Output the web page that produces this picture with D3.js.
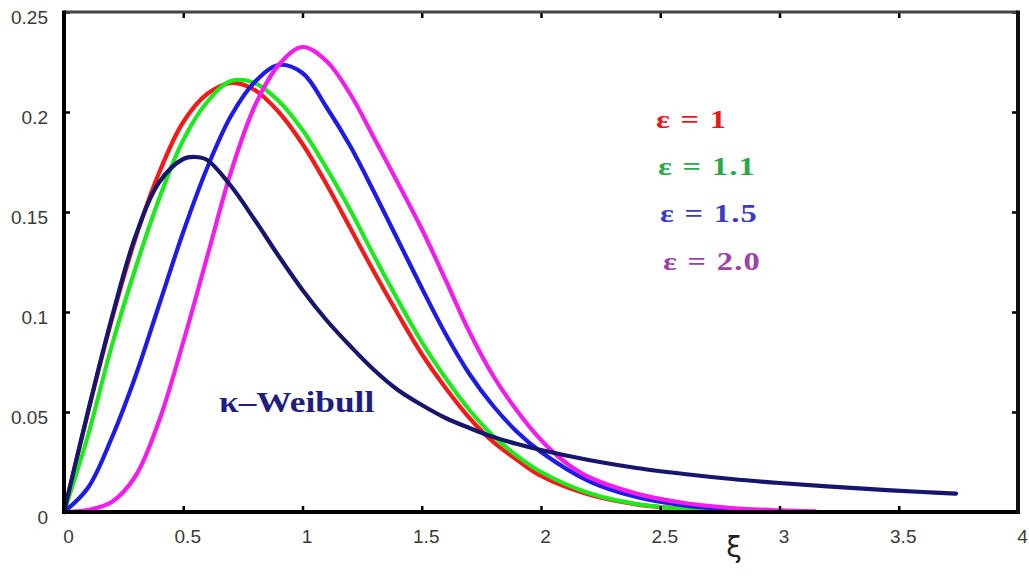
<!DOCTYPE html>
<html><head><meta charset="utf-8">
<script src="https://cdn.jsdelivr.net/npm/d3@7"></script>
<style>body{margin:0;background:#fff}svg{display:block}</style>
</head><body><svg id="c" width="1029" height="578"></svg>
<script>
// ---- data ----
const xTicks = [0, 0.5, 1, 1.5, 2, 2.5, 3, 3.5, 4];
const yTicks = [0, 0.05, 0.1, 0.15, 0.2, 0.25];
const xTickLabels = ["0", "0.5", "1", "1.5", "2", "2.5", "3", "3.5", "4"];
const yTickLabels = ["0", "0.05", "0.1", "0.15", "0.2", "0.25"];

const xsA = [0,0.1,0.2,0.3,0.4,0.5,0.6,0.7,0.8,0.9,1.0,1.1,1.2,1.3,1.4,1.5,1.6,1.7,1.8,1.9,2.0,2.2,2.4,2.6,2.8];
const eps1   = [0,0.0495,0.096,0.137,0.170,0.195,0.209,0.2145,0.211,0.200,0.184,0.164,0.142,0.120,0.099,0.079,0.062,0.047,0.035,0.026,0.018,0.0087,0.0038,0.0015,0.0005];
const eps11  = [0,0.038,0.083,0.122,0.157,0.186,0.205,0.2155,0.2145,0.2055,0.191,0.172,0.151,0.128,0.106,0.085,0.067,0.051,0.038,0.028,0.020,0.0095,0.004,0.0015,0.0004];
const eps15  = [0,0.012,0.037,0.068,0.104,0.140,0.172,0.198,0.215,0.2235,0.2195,0.2025,0.183,0.160,0.136,0.112,0.089,0.069,0.053,0.040,0.030,0.0155,0.0075,0.0033,0.0012];
const xsB = [0,0.1,0.2,0.3,0.4,0.5,0.6,0.7,0.8,0.9,1.0,1.1,1.2,1.3,1.4,1.5,1.6,1.7,1.8,1.9,2.0,2.1,2.2,2.4,2.6,2.8,3.0,3.15];
const eps20  = [0,0.001,0.005,0.018,0.046,0.085,0.1275,0.170,0.203,0.2235,0.2325,0.2255,0.209,0.187,0.1645,0.1415,0.116,0.090,0.068,0.0505,0.036,0.025,0.0175,0.0092,0.0045,0.002,0.0008,0.0003];
const xsK = [0,0.1,0.2,0.3,0.4,0.5,0.55,0.6,0.7,0.8,0.9,1.0,1.1,1.2,1.3,1.4,1.5,1.6,1.7,1.8,1.9,2.0,2.2,2.4,2.6,2.8,3.0,3.2,3.4,3.6,3.74];
const kWeibull = [0,0.050,0.097,0.138,0.165,0.1765,0.1775,0.176,0.163,0.146,0.128,0.111,0.096,0.083,0.071,0.061,0.0535,0.047,0.042,0.0375,0.034,0.031,0.026,0.022,0.019,0.0165,0.0145,0.0128,0.0113,0.010,0.0092];

const seriesNames = ["ε = 1", "ε = 1.1", "ε = 1.5", "ε = 2.0"];
const curveLabel = "κ–Weibull";
const xLabel = "ξ";

// ---- layout ----
const svg = d3.select("#c");
const L = 64, R = 1018, T = 12, B = 512;
const x = d3.scaleLinear().domain([0, 4]).range([L, R]);
const y = d3.scaleLinear().domain([0, 0.25]).range([B, T]);

const series = [
  {xs: xsA, ys: eps1,  color: "#f41a1a"},
  {xs: xsA, ys: eps11, color: "#1ee81e"},
  {xs: xsA, ys: eps15, color: "#1c1ce6"},
  {xs: xsB, ys: eps20, color: "#f41cec"},
  {xs: xsK, ys: kWeibull, color: "#16166e"}
];
const line = d3.line().x(d => x(d[0])).y(d => y(d[1])).curve(d3.curveCatmullRom.alpha(0.5));
series.forEach(s => {
  svg.append("path").datum(s.xs.map((v, i) => [v, s.ys[i]]))
    .attr("d", line).attr("fill", "none").attr("stroke", s.color)
    .attr("stroke-width", 4.2).attr("stroke-linejoin", "round").attr("stroke-linecap", "round");
});

// axes (ticks inward)
const ax = (g, axis) => { g.call(axis); g.select(".domain").remove(); g.selectAll("line").attr("stroke", "#000").attr("stroke-width", 2.5); };
svg.append("g").attr("transform", `translate(0,${B})`)
  .call(g => ax(g, d3.axisBottom(x).tickValues(xTicks).tickSize(-6).tickFormat((d, i) => xTickLabels[i])))
  .call(g => g.selectAll("text").attr("dy", 0).attr("y", 31).attr("dx", 4)
    .attr("font-family", "Liberation Sans, Arial, sans-serif").attr("font-size", 19).attr("fill", "#3a3a3a"));
svg.append("g").attr("transform", `translate(${L},0)`)
  .call(g => ax(g, d3.axisLeft(y).tickValues(yTicks).tickSize(-6).tickFormat((d, i) => yTickLabels[i])))
  .call(g => g.selectAll("text").attr("x", -16).attr("dy", "0.62em")
    .attr("font-family", "Liberation Sans, Arial, sans-serif").attr("font-size", 19).attr("fill", "#3a3a3a"));
svg.append("g").attr("transform", `translate(0,${T})`)
  .call(g => ax(g, d3.axisTop(x).tickValues(xTicks).tickSize(-6).tickFormat("")));
svg.append("g").attr("transform", `translate(${R},0)`)
  .call(g => ax(g, d3.axisRight(y).tickValues(yTicks).tickSize(-6).tickFormat("")));

// frame
svg.append("line").attr("x1", L).attr("x2", R).attr("y1", T).attr("y2", T).attr("stroke", "#444").attr("stroke-width", 3);
svg.append("line").attr("x1", L).attr("x2", R).attr("y1", B).attr("y2", B).attr("stroke", "#000").attr("stroke-width", 4);
svg.append("line").attr("x1", L).attr("x2", L).attr("y1", T - 1.5).attr("y2", B + 2).attr("stroke", "#000").attr("stroke-width", 4);
svg.append("line").attr("x1", R).attr("x2", R).attr("y1", T - 1.5).attr("y2", B + 2).attr("stroke", "#111").attr("stroke-width", 4);

// x label
svg.append("text").attr("x", x(2.81)).attr("y", 557).attr("text-anchor", "middle")
  .attr("font-family", "DejaVu Sans, sans-serif").attr("font-size", 28).attr("fill", "#222").text(xLabel);

// legend
const legColors = ["#e8181e", "#2aa84a", "#3a3ac4", "#9c40aa"];
const legPos = [[656, 128], [658, 175], [660, 222], [663, 270]];
seriesNames.forEach((n, i) => {
  svg.append("text").attr("transform", `translate(${legPos[i][0]},${legPos[i][1]}) scale(1.25,1)`)
    .attr("font-family", "Liberation Serif, Times New Roman, serif").attr("font-weight", "bold")
    .attr("font-size", 26).attr("letter-spacing", 1).attr("fill", legColors[i]).text(n);
});
svg.append("text").attr("transform", `translate(219,412) scale(1.22,1)`)
  .attr("font-family", "Liberation Serif, Times New Roman, serif").attr("font-weight", "bold")
  .attr("font-size", 29).attr("fill", "#1e1e80").text(curveLabel);
</script></body></html>
